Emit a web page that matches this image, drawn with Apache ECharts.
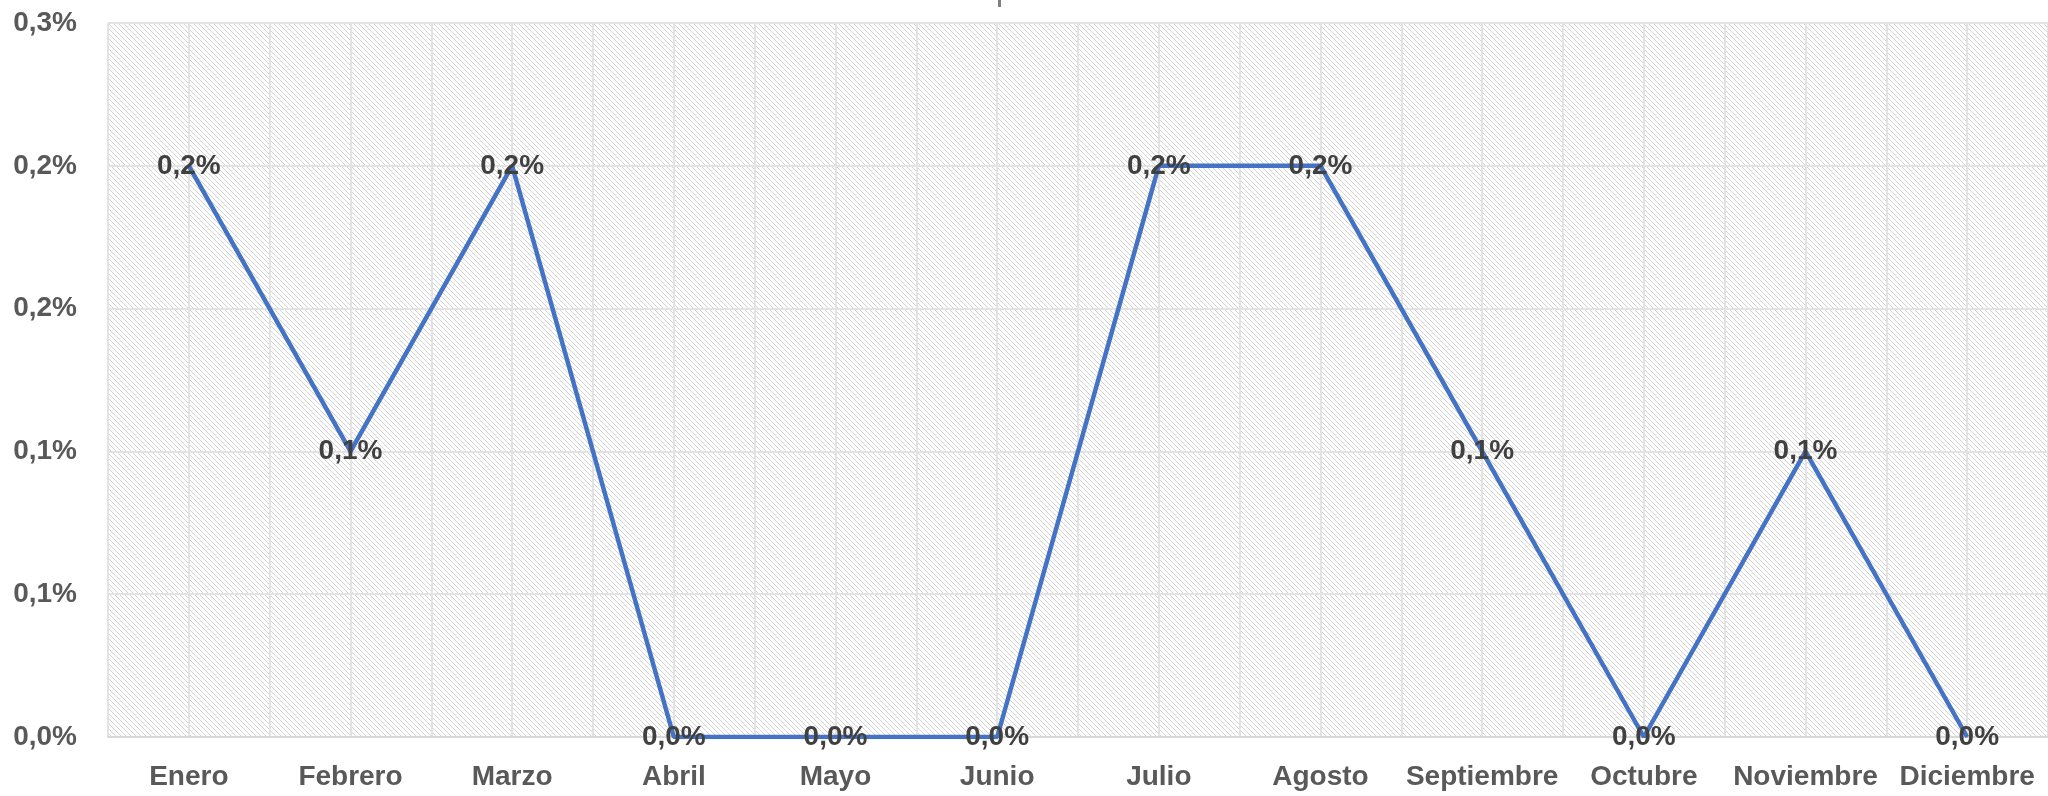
<!DOCTYPE html>
<html>
<head>
<meta charset="utf-8">
<script src="https://cdn.jsdelivr.net/npm/echarts@6/dist/echarts.min.js"></script>
<style>
  html, body { margin: 0; padding: 0; background: #fff; }
  #chart { width: 2048px; height: 796px; }
</style>
</head>
<body>
<div id="chart"></div>
<script>
// months and monthly values (in %)
const months = ['Enero', 'Febrero', 'Marzo', 'Abril', 'Mayo', 'Junio', 'Julio',
  'Agosto', 'Septiembre', 'Octubre', 'Noviembre', 'Diciembre'];
const values = [0.2, 0.1, 0.2, 0, 0, 0, 0.2, 0.2, 0.1, 0, 0.1, 0];

// y axis range (percent)
const yMin = 0;
const yMax = 0.25;
const yStep = 0.05;

const FONT = '"Liberation Sans", Arial, sans-serif';

// hatched plot background
function hatch () {
  const c = document.createElement('canvas');
  c.width = 5;
  c.height = 5;
  const ctx = c.getContext('2d');
  ctx.fillStyle = '#ffffff';
  ctx.fillRect(0, 0, 5, 5);
  ctx.fillStyle = '#d4d4d4';
  for (let i = 0; i < 5; i++) ctx.fillRect(i, i, 1, 1);
  return c;
}

function pct (v) {
  return (Math.round(v * 10 + 1e-6) / 10).toFixed(1).replace('.', ',') + '%';
}

const chart = echarts.init(document.getElementById('chart'));
chart.setOption({
  animation: false,
  grid: {
    left: 108, right: 0, top: 23, bottom: 59,
    show: true,
    borderWidth: 0,
    backgroundColor: { image: hatch(), repeat: 'repeat' }
  },
  graphic: [{
    type: 'rect',
    shape: { x: 998, y: 0, width: 3, height: 7 },
    style: { fill: '#7f7f7f' }
  }],
  xAxis: [
    {
      type: 'category',
      data: months,
      boundaryGap: true,
      axisLine: { lineStyle: { color: '#d9d9d9', width: 2 } },
      axisTick: { show: false },
      splitLine: { show: false },
      axisLabel: {
        interval: 0,
        margin: 26,
        color: '#595959',
        fontSize: 28,
        fontWeight: 'bold',
        fontFamily: FONT
      }
    },
    {
      // half-category vertical gridlines
      type: 'value',
      min: 0,
      max: months.length * 2,
      interval: 1,
      position: 'bottom',
      axisLine: { show: false },
      axisTick: { show: false },
      axisLabel: { show: false },
      splitLine: { show: true, lineStyle: { color: '#e3e3e3', width: 2 } }
    }
  ],
  yAxis: {
    type: 'value',
    min: yMin,
    max: yMax,
    interval: yStep,
    axisLine: { show: false },
    axisTick: { show: false },
    splitLine: { lineStyle: { color: '#e3e3e3', width: 2 } },
    axisLabel: {
      margin: 31,
      color: '#595959',
      fontSize: 28,
      fontWeight: 'bold',
      fontFamily: FONT,
      formatter: pct
    }
  },
  series: [{
    type: 'line',
    xAxisIndex: 0,
    data: values,
    symbol: 'circle',
    symbolSize: 1,
    showSymbol: true,
    lineStyle: { color: '#4472C4', width: 4.5 },
    itemStyle: { color: '#4472C4' },
    label: {
      show: true,
      position: 'inside',
      color: '#404040',
      fontSize: 28,
      fontWeight: 'bold',
      fontFamily: FONT,
      formatter: p => pct(p.value)
    },
    labelLayout: { hideOverlap: false },
    z: 5
  }]
});
</script>
</body>
</html>
